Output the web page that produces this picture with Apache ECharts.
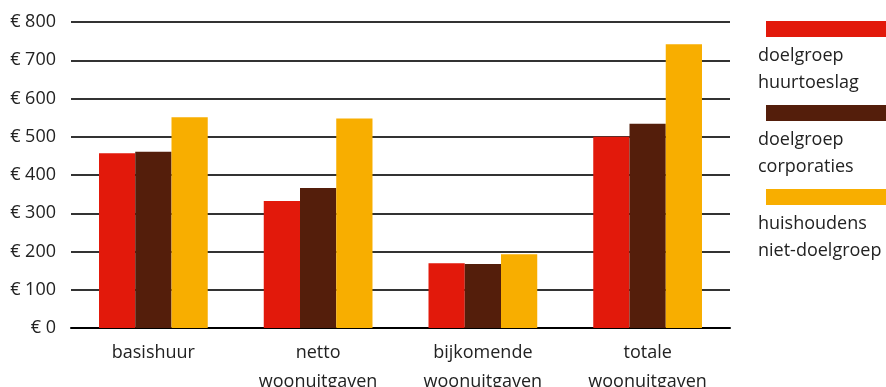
<!DOCTYPE html>
<html><head><meta charset="utf-8">
<script src="https://cdn.jsdelivr.net/npm/echarts@6/dist/echarts.min.js"></script>
<style>html,body{margin:0;padding:0;background:#fff}#c{width:886px;height:387px}</style>
</head><body><div id="c"></div>
<script>
const categories = ['basishuur', 'netto\nwoonuitgaven', 'bijkomende\nwoonuitgaven', 'totale\nwoonuitgaven'];
const seriesNames = ['doelgroep\nhuurtoeslag', 'doelgroep\ncorporaties', 'huishoudens\nniet-doelgroep'];
const huurtoeslag = [457, 332, 169, 500];
const corporaties = [461, 366, 167, 534];
const nietDoelgroep = [551, 548, 193, 742];
const yTicks = [0, 100, 200, 300, 400, 500, 600, 700, 800];
const colors = ['#e2190b', '#541e0b', '#f8ae00'];
const FONT = '"Open Sans", "Noto Sans", sans-serif';

const chart = echarts.init(document.getElementById('c'), null, {renderer: 'canvas'});
const dataSets = [huurtoeslag, corporaties, nietDoelgroep];
const legendTops = [21, 105, 189];
const graphic = [];
seriesNames.forEach((n, i) => {
  graphic.push({type: 'rect', left: 766, top: legendTops[i], shape: {width: 120, height: 16}, style: {fill: colors[i]}});
  graphic.push({type: 'text', left: 758, top: legendTops[i] + 21, style: {text: n, font: '18px ' + FONT, fill: '#222', lineHeight: 27}});
});
chart.setOption({
  animation: false,
  grid: {left: 71, right: 156, top: 22, bottom: 59, containLabel: false, outerBoundsMode: 'none'},
  xAxis: {
    type: 'category', data: categories,
    axisLine: {show: true, lineStyle: {color: '#000', width: 2}},
    axisTick: {show: false},
    axisLabel: {color: '#222', fontSize: 18, fontFamily: FONT, lineHeight: 29, margin: 10}
  },
  yAxis: {
    type: 'value', min: 0, max: 800, interval: 100,
    axisLine: {show: false}, axisTick: {show: false},
    splitLine: {lineStyle: {color: '#333', width: 2}},
    axisLabel: {color: '#222', fontSize: 18, fontFamily: FONT, margin: 15,
      formatter: v => yTicks.includes(v) ? '€ ' + v : ''}
  },
  series: dataSets.map((d, i) => ({
    type: 'bar', name: seriesNames[i], data: d, barWidth: '22%', barGap: '0%',
    itemStyle: {color: colors[i]}, z: 3
  })),
  graphic: graphic
});
</script></body></html>
